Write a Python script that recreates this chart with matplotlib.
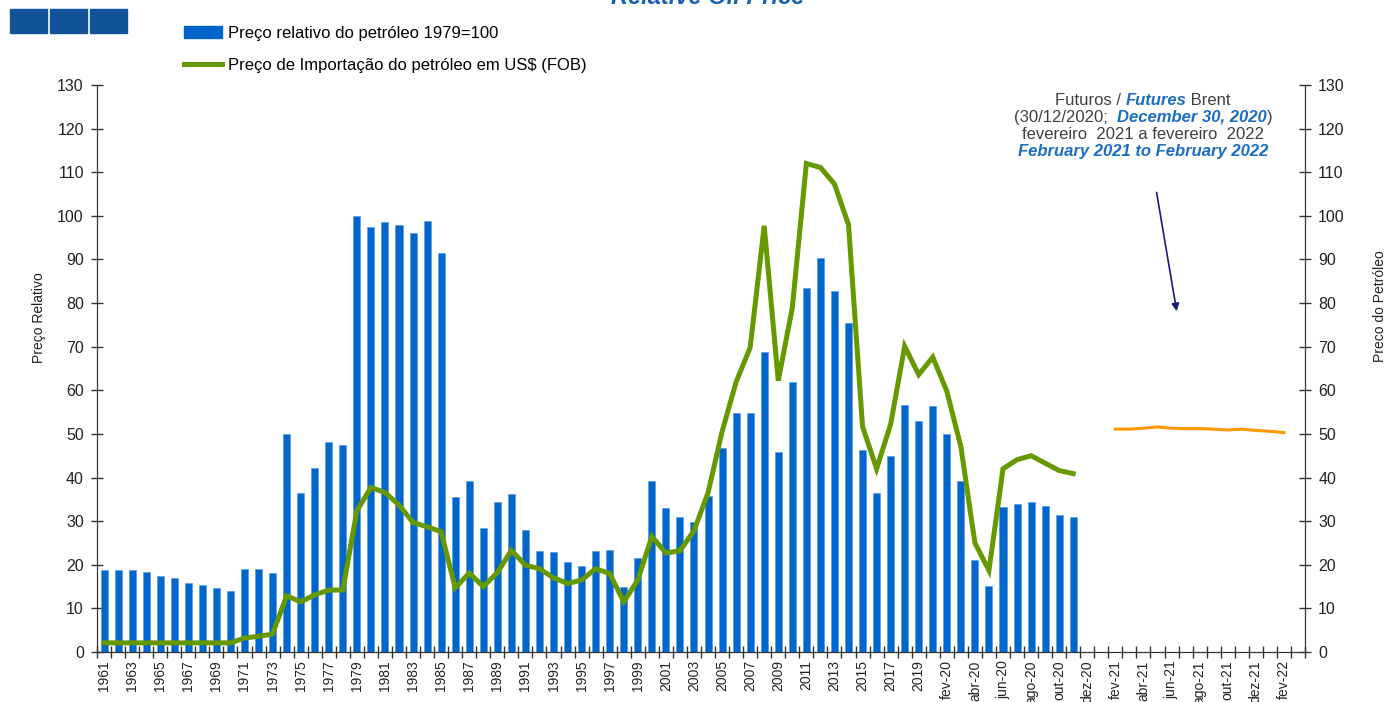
import numpy as np
import matplotlib
matplotlib.use('Agg')
import matplotlib.pyplot as plt
from matplotlib.patches import Rectangle, Patch
from matplotlib.lines import Line2D
from matplotlib.offsetbox import TextArea, HPacker, VPacker, AnchoredOffsetbox

plt.rcParams['font.family'] = ['Liberation Sans', 'DejaVu Sans']

# categories: yearly 1961-2019, then monthly jan-20 .. mar-22
years = [str(y) for y in range(1961, 2020)]
meses = ['jan', 'fev', 'mar', 'abr', 'mai', 'jun', 'jul', 'ago', 'set', 'out', 'nov', 'dez']
months = [m + '-' + a for a in ['20', '21'] for m in meses] + ['jan-22', 'fev-22', 'mar-22']
cats = years + months

# relative oil price, 1979=100 (1961-2019, then jan-20 .. nov-20)
preco_rel = [18.8, 18.8, 18.8, 18.4, 17.4, 17.0, 15.9, 15.4, 14.6, 14.1,
             19.1, 19.1, 18.1, 49.9, 36.5, 42.3, 48.2, 47.4, 100.0, 97.4,
             98.6, 98.0, 96.1, 98.8, 91.5, 35.5, 39.1, 28.4, 34.3, 36.2,
             27.9, 23.2, 22.9, 20.7, 19.7, 23.2, 23.4, 14.8, 21.6, 39.1,
             33.1, 31.0, 29.9, 35.7, 46.8, 54.7, 54.9, 68.8, 45.9, 61.9,
             83.4, 90.3, 82.7, 75.4, 46.3, 36.5, 44.9, 56.7, 52.9,
             56.4, 49.9, 39.1, 21.1, 15.1, 33.2, 34.0, 34.4, 33.4, 31.5, 30.9]

# import price of oil in US$ (FOB), same periods
preco_imp = [2.1, 2.1, 2.1, 2.1, 2.1, 2.1, 2.1, 2.1, 2.1, 2.1,
             3.2, 3.6, 4.1, 12.9, 11.5, 13.1, 14.2, 14.2, 32.4, 37.7,
             36.6, 33.7, 29.7, 28.7, 27.6, 14.7, 18.1, 15.0, 18.2, 23.3,
             19.9, 19.1, 17.0, 15.7, 16.5, 19.1, 18.0, 11.5, 16.5, 26.5,
             22.7, 23.2, 27.8, 36.5, 50.5, 61.9, 69.8, 97.7, 62.2, 78.9,
             112.0, 111.1, 107.3, 98.0, 51.7, 42.0, 52.2, 70.1, 63.6,
             67.6, 59.8, 47.1, 25.0, 18.7, 42.0, 44.1, 45.0, 43.3, 41.6, 40.9]

# Brent futures (30/12/2020), fev-21 .. fev-22
futuros_cat = ['fev-21', 'mar-21', 'abr-21', 'mai-21', 'jun-21', 'jul-21', 'ago-21',
               'set-21', 'out-21', 'nov-21', 'dez-21', 'jan-22', 'fev-22']
futuros = [51.1, 51.1, 51.3, 51.6, 51.3, 51.2, 51.2, 51.1, 50.9, 51.1, 50.8, 50.6, 50.3]

azul = '#0066CC'
verde = '#669900'
laranja = '#FF9900'
cinza = '#404040'
azul_txt = '#1B6EC2'

fig = plt.figure(figsize=(13.87, 7.02), dpi=100)
ax = fig.add_axes([97/1387, 1-652/702, (1305-97)/1387, (652-85)/702])
ax2 = ax.twinx()

x = np.arange(len(cats))
xb = np.arange(len(preco_rel))
ax.bar(xb, preco_rel, width=0.5, color=azul, edgecolor='#4d94db', linewidth=0.4, zorder=2)
ax2.plot(xb, preco_imp, color=verde, lw=3.6, solid_joinstyle='miter', zorder=3)
xf = [cats.index(c) for c in futuros_cat]
ax2.plot(xf, futuros, color=laranja, lw=2.2, zorder=3)

for a in (ax, ax2):
    a.set_ylim(0, 130)
    a.set_yticks(np.arange(0, 131, 10))
    a.set_xlim(-0.5, len(cats) - 0.5)
    a.spines['top'].set_visible(False)
    a.spines['left'].set_color('#333333')
    a.spines['right'].set_color('#333333')
    a.spines['bottom'].set_color('#333333')
    a.tick_params(axis='y', direction='inout', length=9, width=1, colors='#333333',
                  labelsize=11.5, labelcolor='#222222', pad=5)

ax.set_xticks(x[::2])
ax.set_xticklabels(cats[::2], rotation=90, fontsize=10, color='#222222')
ax.set_xticks(np.arange(-0.5, len(cats), 1), minor=True)
ax.tick_params(axis='x', which='major', length=0, pad=6)
ax.tick_params(axis='x', which='minor', direction='inout', length=9, width=1, color='#333333')

ax.set_ylabel('Preço Relativo', fontsize=10, color='#222222')
ax.yaxis.set_label_coords(-0.0425, 0.59)
ax2.set_ylabel('Preco do Petróleo', fontsize=10, color='#222222')
ax2.yaxis.set_label_coords(1.0565, 0.61)

# legend
handles = [Patch(facecolor=azul, edgecolor=azul),
           Line2D([0], [0], color=verde, lw=3.6)]
fig.legend(handles, ['Preço relativo do petróleo 1979=100',
                     'Preço de Importação do petróleo em US$ (FOB)'],
           loc='upper left', bbox_to_anchor=(184/1387, 1-26/702), frameon=False,
           fontsize=12, handlelength=2.3, handletextpad=0.35, labelspacing=1.0,
           borderpad=0, borderaxespad=0)

# futures note
def parte(txt, destaque=False):
    if destaque:
        return TextArea(txt, textprops=dict(color=azul_txt, fontsize=12, fontweight='bold',
                                            fontstyle='italic'))
    return TextArea(txt, textprops=dict(color=cinza, fontsize=12))

linhas = [
    HPacker(children=[parte('Futuros / '), parte('Futures', True), parte(' Brent')], pad=0, sep=0),
    HPacker(children=[parte('(30/12/2020;  '), parte('December 30, 2020', True), parte(')')], pad=0, sep=0),
    HPacker(children=[parte('fevereiro  2021 a fevereiro  2022')], pad=0, sep=0),
    HPacker(children=[parte('February 2021 to February 2022', True)], pad=0, sep=0),
]
bloco = VPacker(children=linhas, align='center', pad=0, sep=1.5)
nota = AnchoredOffsetbox(loc='center', child=bloco, frameon=False, pad=0, borderpad=0,
                         bbox_to_anchor=(1143/1387, 1-126/702), bbox_transform=fig.transFigure)
fig.add_artist(nota)

ax2.annotate('', xy=(76.4, 77.5), xytext=(74.9, 106),
             arrowprops=dict(arrowstyle='-|>', color='#1a1a7a', lw=1.2, mutation_scale=11))

# header squares and title
for x0 in (10, 50, 90):
    fig.patches.append(Rectangle((x0/1387, 1-33/702), 37/1387, 24/702,
                                 transform=fig.transFigure, color='#12549A'))
fig.text(708/1387, 1-4/702, 'Relative Oil Price', ha='center', va='baseline',
         fontsize=17, fontweight='bold', fontstyle='italic', color='#1560B0')

fig.savefig('out.png', dpi=100)
